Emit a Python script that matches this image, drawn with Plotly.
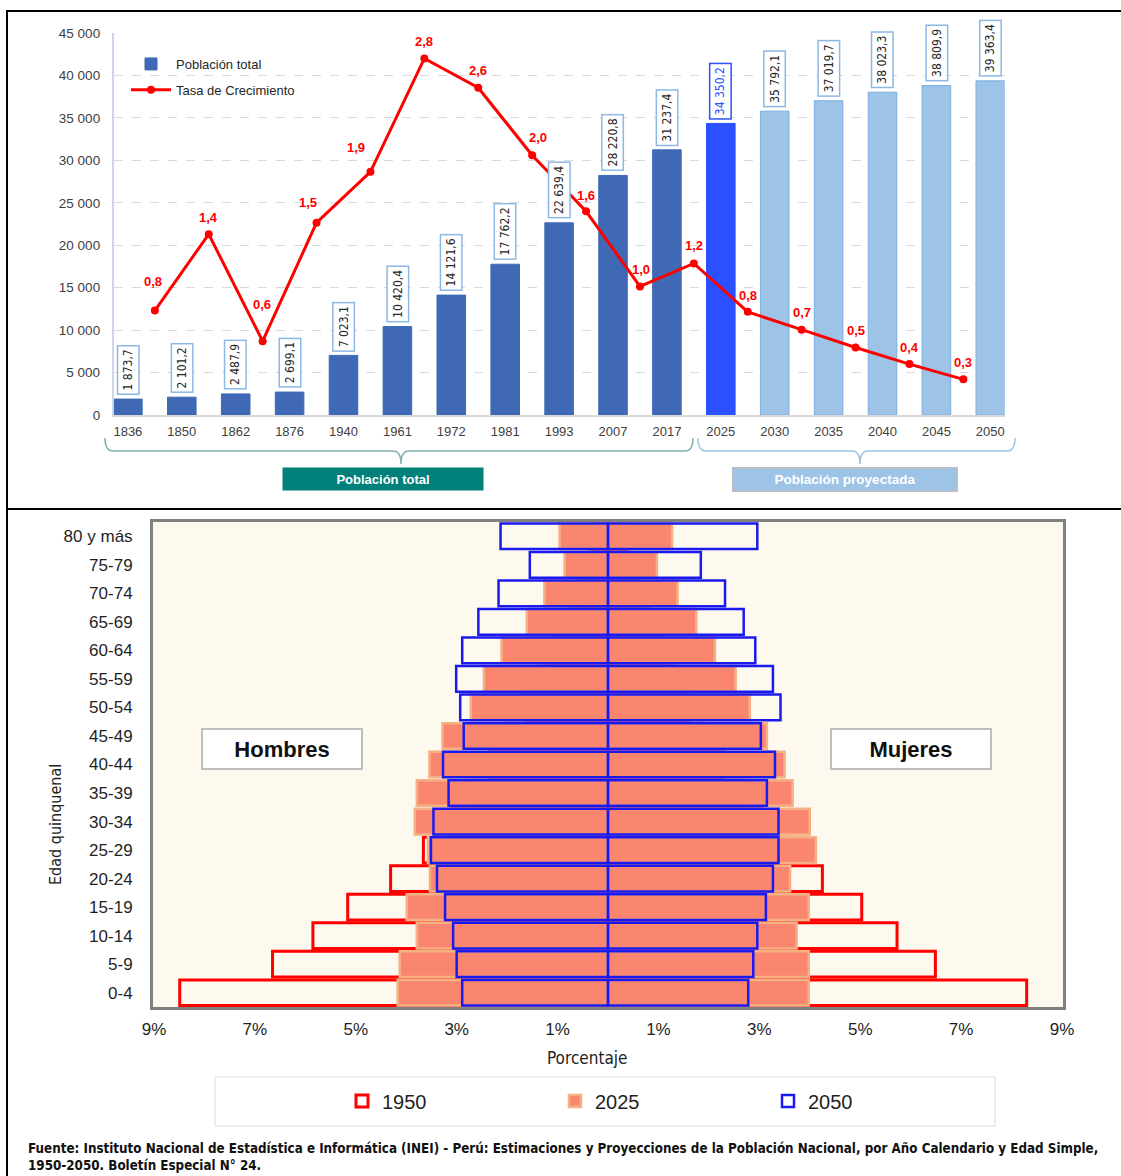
import plotly.graph_objects as go
import numpy as np

W, H = 1121, 1176

# ---------------- data: top chart ----------------
years = ["1836", "1850", "1862", "1876", "1940", "1961", "1972", "1981", "1993",
         "2007", "2017", "2025", "2030", "2035", "2040", "2045", "2050"]
population = [1873.7, 2101.2, 2487.9, 2699.1, 7023.1, 10420.4, 14121.6, 17762.2,
              22639.4, 28220.8, 31237.4, 34350.2, 35792.1, 37019.7, 38023.3,
              38809.9, 39363.4]
period_kind = ["censo"] * 11 + ["actual"] + ["proyectada"] * 5
growth_rate = [0.82, 1.42, 0.58, 1.51, 1.91, 2.80, 2.57, 2.04, 1.60, 1.01,
               1.19, 0.81, 0.67, 0.53, 0.40, 0.28]

# ---------------- data: pyramid ----------------
age_groups = ["0-4", "5-9", "10-14", "15-19", "20-24", "25-29", "30-34", "35-39",
              "40-44", "45-49", "50-54", "55-59", "60-64", "65-69", "70-74",
              "75-79", "80 y más"]
men_1950 = [8.49, 6.65, 5.85, 5.16, 4.31, 3.66, 3.10, 2.75, 2.35, 2.00, 1.65,
            1.35, 1.10, 0.80, 0.55, 0.35, 0.30]
men_2025 = [4.17, 4.13, 3.79, 3.99, 3.53, 3.57, 3.83, 3.79, 3.54, 3.28, 2.72,
            2.46, 2.11, 1.61, 1.26, 0.86, 0.96]
men_2050 = [2.89, 3.00, 3.07, 3.23, 3.39, 3.51, 3.46, 3.16, 3.27, 2.86, 2.93,
            3.01, 2.89, 2.57, 2.17, 1.55, 2.13]
women_1950 = [8.30, 6.49, 5.73, 5.03, 4.25, 3.60, 3.05, 2.70, 2.30, 1.95, 1.60,
              1.30, 1.10, 0.85, 0.60, 0.40, 0.35]
women_2025 = [3.98, 3.98, 3.74, 3.98, 3.61, 4.12, 4.00, 3.66, 3.50, 3.15, 2.81,
              2.53, 2.12, 1.75, 1.38, 0.97, 1.27]
women_2050 = [2.78, 2.88, 2.96, 3.13, 3.27, 3.38, 3.38, 3.15, 3.31, 3.03, 3.42,
              3.27, 2.92, 2.69, 2.32, 1.84, 2.96]
pct_ticks = [-9, -7, -5, -3, -1, 1, 3, 5, 7, 9]

# label offsets (pixels) for the growth-rate labels
rate_label_dx = [-2, 0, -1, -9, -14, 0, 0, 6, 0, 1, 0, 0, 0, 0, 0, 0]
rate_label_dy = [29, 17, 37, 20, 24, 17, 17, 18, 16, 17, 18, 16, 17, 17, 17, 17]


def px(x):
    return x / W


def py(y):
    return 1 - y / H


BASE = "Liberation Sans, Arial, sans-serif"
NARROW = "Liberation Sans Narrow, Arial Narrow, DejaVu Sans Condensed, Liberation Sans, sans-serif"

kind_color = {"censo": "#3F69B5", "actual": "#2A50FF", "proyectada": "#9DC3E6"}
kind_line = {"censo": "#3F69B5", "actual": "#2A50FF", "proyectada": "#7AAEE0"}
kind_box = {"censo": "#8DB8E6", "actual": "#2A50FF", "proyectada": "#8DB8E6"}
kind_text = {"censo": "#262626", "actual": "#2A50FF", "proyectada": "#262626"}

idx = np.arange(len(years))
rate_x = idx[:-1] + 0.5

fig = go.Figure()

fig.add_trace(go.Bar(
    x=idx, y=population, width=0.53,
    marker=dict(color=[kind_color[k] for k in period_kind],
                line=dict(color=[kind_line[k] for k in period_kind], width=1)),
    name="Población total", xaxis="x", yaxis="y", legend="legend",
    legendgroup="a", hoverinfo="skip"))

fig.add_trace(go.Scatter(
    x=rate_x, y=growth_rate, xaxis="x", yaxis="y2",
    mode="lines+markers", name="Tasa de Crecimiento",
    line=dict(color="#FF0000", width=3),
    marker=dict(color="#FF0000", size=8),
    legend="legend", legendgroup="b", hoverinfo="skip"))

# pyramid traces
pyr_y = age_groups + age_groups
fig.add_trace(go.Bar(
    x=[-v for v in men_1950] + women_1950, y=pyr_y, orientation="h", width=0.9,
    marker=dict(color="rgba(0,0,0,0)", line=dict(color="#FF0000", width=3)),
    name="1950", xaxis="x3", yaxis="y3", legend="legend2", hoverinfo="skip"))
fig.add_trace(go.Bar(
    x=[-v for v in men_2025] + women_2025, y=pyr_y, orientation="h", width=0.9,
    marker=dict(color="#FA8670", line=dict(color="#F4B183", width=2.5)),
    name="2025", xaxis="x3", yaxis="y3", legend="legend2", hoverinfo="skip"))
fig.add_trace(go.Bar(
    x=[-v for v in men_2050] + women_2050, y=pyr_y, orientation="h", width=0.9,
    marker=dict(color="rgba(0,0,0,0)", line=dict(color="#1A1AEE", width=2.5)),
    name="2050", xaxis="x3", yaxis="y3", legend="legend2", hoverinfo="skip"))

annotations = []
for i, (v, k) in enumerate(zip(population, period_kind)):
    label = f"{v:,.1f}".replace(",", " ").replace(".", ",")
    annotations.append(dict(
        x=i, y=v, xref="x", yref="y", text=label, showarrow=False,
        textangle=-90, yanchor="bottom", xanchor="center", yshift=4,
        bgcolor="white", bordercolor=kind_box[k], borderwidth=1.5, borderpad=3,
        font=dict(family=NARROW, size=12, color=kind_text[k])))

for xv, g, dx, dy in zip(rate_x, growth_rate, rate_label_dx, rate_label_dy):
    annotations.append(dict(
        x=xv, y=g, xref="x", yref="y2", text=f"{g:.1f}".replace(".", ","),
        showarrow=False, xanchor="center", yanchor="middle", xshift=dx, yshift=dy,
        font=dict(family=BASE, size=13, color="#FF0000", weight="bold")))


def pann(x, y, text, **kw):
    d = dict(x=px(x), y=py(y), xref="paper", yref="paper", text=text, showarrow=False,
             xanchor="center", yanchor="middle")
    d.update(kw)
    return d


annotations += [
    pann(383, 479, "<b>Población total</b>", width=198, height=20, bgcolor="#00807A",
         borderpad=1, font=dict(family=BASE, size=13, color="white")),
    pann(845, 479, "<b>Población proyectada</b>", width=221, height=20, bgcolor="#9DC3E6",
         bordercolor="#BFBFBF", borderwidth=1.5, borderpad=1,
         font=dict(family=BASE, size=13.5, color="white")),
    pann(282, 749, "<b>Hombres</b>", width=156, height=36, bgcolor="white",
         bordercolor="#BFBFBF", borderwidth=2, font=dict(family=BASE, size=22, color="#111111")),
    pann(911, 749, "<b>Mujeres</b>", width=156, height=36, bgcolor="white",
         bordercolor="#BFBFBF", borderwidth=2, font=dict(family=BASE, size=22, color="#111111")),
    pann(55, 825, "Edad quinquenal", textangle=-90,
         font=dict(family=NARROW, size=16, color="#222222")),
    pann(587, 1058, "Porcentaje", font=dict(family=NARROW, size=17, color="#222222")),
    pann(26, 1157, "<b>Fuente: Instituto Nacional de Estadística e Informática (INEI) - Perú: Estimaciones y Proyecciones de la Población Nacional, por Año Calendario y Edad Simple,</b><br><b>1950-2050. Boletín Especial N° 24.</b>",
         xanchor="left", align="left", font=dict(family=NARROW, size=13.3, color="#111111")),
]


def brace(xl, xr, xm, yt, yb, ytip, r=8):
    pts = [(xl, yt), (xl, yb), (xl + r, yb), (xm - r, yb), (xm, yb), (xm, ytip),
           (xm, yb), (xm + r, yb), (xr - r, yb), (xr, yb), (xr, yt)]
    p = [(px(a), py(b)) for a, b in pts]
    return (f"M{p[0][0]},{p[0][1]} Q{p[1][0]},{p[1][1]} {p[2][0]},{p[2][1]} "
            f"L{p[3][0]},{p[3][1]} Q{p[4][0]},{p[4][1]} {p[5][0]},{p[5][1]} "
            f"Q{p[6][0]},{p[6][1]} {p[7][0]},{p[7][1]} L{p[8][0]},{p[8][1]} "
            f"Q{p[9][0]},{p[9][1]} {p[10][0]},{p[10][1]}")


shapes = [
    dict(type="rect", xref="x3 domain", yref="y3 domain", x0=0, x1=1, y0=0, y1=1,
         fillcolor="#FEF9EE", line=dict(width=0), layer="below"),
    dict(type="path", xref="paper", yref="paper", path=brace(105, 693, 401, 438, 451, 464),
         line=dict(color="#7FB0AE", width=1.5)),
    dict(type="path", xref="paper", yref="paper", path=brace(698, 1015, 860, 438, 451, 464),
         line=dict(color="#9DC3E6", width=1.5)),
    dict(type="rect", xref="paper", yref="paper", x0=px(215), x1=px(995), y0=py(1126), y1=py(1077),
         fillcolor="white", line=dict(color="#DDDDDD", width=1), layer="below"),
    dict(type="line", xref="paper", yref="paper", x0=px(7), x1=px(7), y0=py(10), y1=0,
         line=dict(color="black", width=2)),
    dict(type="line", xref="paper", yref="paper", x0=px(7), x1=1, y0=py(11), y1=py(11),
         line=dict(color="black", width=2)),
    dict(type="line", xref="paper", yref="paper", x0=px(7), x1=1, y0=py(509), y1=py(509),
         line=dict(color="black", width=2)),
]

fig.update_layout(
    width=W, height=H, autosize=False,
    margin=dict(l=0, r=0, t=0, b=0, autoexpand=False),
    paper_bgcolor="white", plot_bgcolor="rgba(0,0,0,0)",
    separators=", ",
    barmode="overlay",
    font=dict(family=BASE, color="#404040"),
    xaxis=dict(domain=[px(113.6), px(1004.6)], range=[-0.265, 16.265], anchor="y",
               tickmode="array", tickvals=idx, ticktext=years, showgrid=False,
               zeroline=False, showline=True, linecolor="#D9D9D9", linewidth=1.5,
               tickfont=dict(size=13, color="#404040"), ticks="", automargin=False,
               ticklabelstandoff=4),
    yaxis=dict(domain=[py(415), py(33)], range=[0, 45000], anchor="x",
               tickmode="array", tickvals=list(range(0, 45001, 5000)), tickformat=",.0f",
               showgrid=True, gridcolor="#D9D9D9", griddash="dash", zeroline=False,
               showline=True, linecolor="#CBD7E8", linewidth=1.5, automargin=False,
               tickfont=dict(size=13.5, color="#404040"), ticklabelstandoff=9),
    yaxis2=dict(overlaying="y", range=[0, 3], visible=False, anchor="x"),
    xaxis3=dict(domain=[px(153), px(1063)], range=[-9.02, 9.02], anchor="y3",
                tickmode="array", tickvals=pct_ticks,
                ticktext=[f"{abs(t)}%" for t in pct_ticks], showgrid=False,
                zeroline=True, zerolinecolor="#3A3A5A", zerolinewidth=1,
                showline=True, mirror=True, linecolor="#808080", linewidth=3,
                automargin=False,
                tickfont=dict(size=17, color="#1F1F1F"), ticklabelstandoff=5),
    yaxis3=dict(domain=[py(1007), py(522)], type="category", categoryorder="array",
                categoryarray=age_groups, range=[-0.5, 16.5], anchor="x3",
                showgrid=False, zeroline=False, showline=True, mirror=True,
                linecolor="#808080", linewidth=3, automargin=False,
                tickfont=dict(size=17, color="#1F1F1F"), ticklabelstandoff=14),
    legend=dict(x=px(126), y=py(49), xanchor="left", yanchor="top",
                bgcolor="rgba(0,0,0,0)", font=dict(size=13, color="#262626"),
                traceorder="grouped", tracegroupgap=6, itemwidth=40),
    legend2=dict(orientation="h", x=px(342), y=py(1101), xanchor="left", yanchor="middle",
                 bgcolor="rgba(0,0,0,0)", font=dict(size=20, color="#1F1F1F"),
                 entrywidth=168, itemwidth=30),
    annotations=annotations,
    shapes=shapes,
)

fig.write_html("out.html", config={"displayModeBar": False},
               post_script="document.body.style.margin='0';")
